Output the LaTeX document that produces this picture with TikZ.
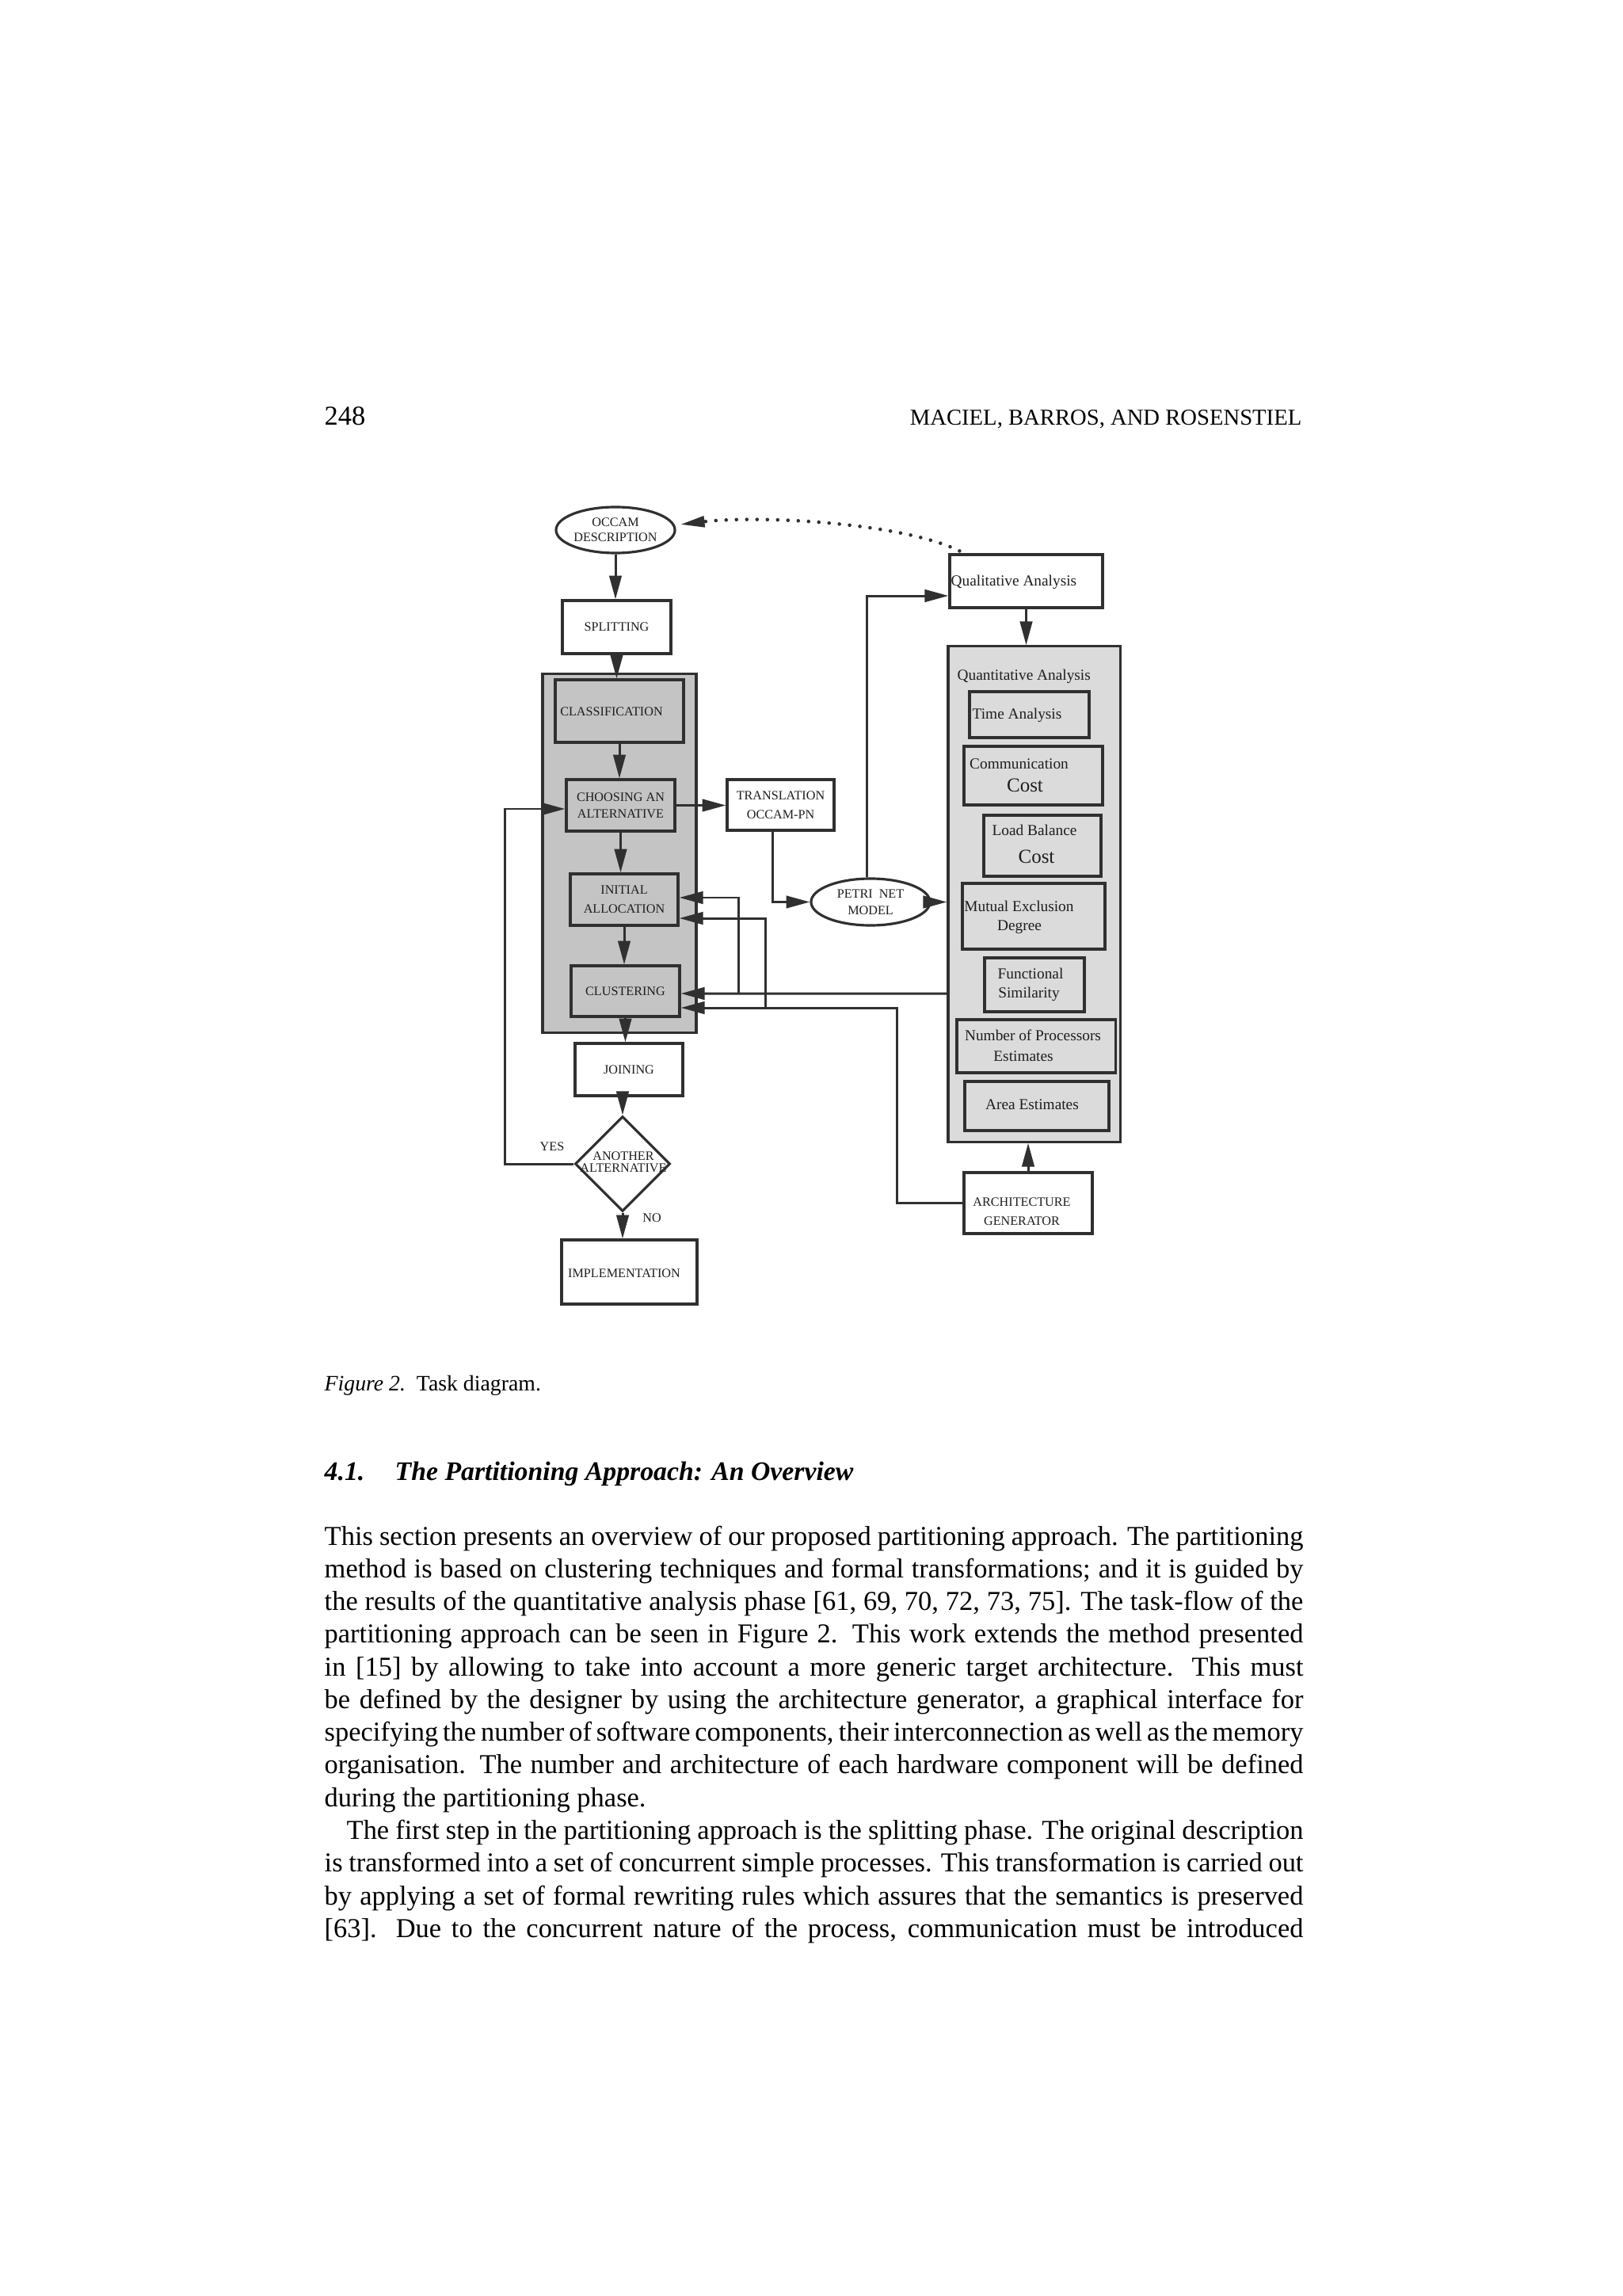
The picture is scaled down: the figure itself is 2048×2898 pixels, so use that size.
\documentclass[tikz,border=0pt]{standalone}
\usepackage{fontspec}
\setmainfont{Liberation Serif}
\usetikzlibrary{arrows.meta,shapes.geometric,calc}
\definecolor{ln}{HTML}{303030}
\definecolor{shL}{gray}{0.77}
\definecolor{shR}{gray}{0.86}
\definecolor{txt}{HTML}{1E1E1E}
\newcommand\capsz{\fontsize{4.6}{5.4}\selectfont}
\newcommand\mixsz{\fontsize{5.5}{6.5}\selectfont}
\newcommand\costsz{\fontsize{7.1}{8}\selectfont}
\newcommand\bodysz{\fontsize{9.8}{11.745}\selectfont}
\begin{document}
\begin{tikzpicture}[x=0.01cm,y=-0.01cm,
  box/.style={draw=ln, line width=0.9pt, rectangle, inner sep=0pt, text=txt},
  oval/.style={draw=ln, line width=0.9pt, ellipse, inner sep=0pt, text=txt, fill=white},
  lbl/.style={inner sep=0pt, text=txt},
  arr/.style={draw=ln, line width=0.85pt, -{Triangle[length=8.5pt,width=4.4pt]}},
  dotline/.style={draw=ln, line width=1.3pt, line cap=round, dash pattern=on 0pt off 3.7pt, -{Triangle[length=8.8pt,width=3.8pt]}},
  bodyline/.style={anchor=base west, inner sep=0pt, text width=12.35cm, align=justify, font=\bodysz},
  plainline/.style={anchor=base west, inner sep=0pt, font=\bodysz}]
\fill[white] (0,0) rectangle (2048,2898);
\useasboundingbox (0,0) rectangle (2048,2898);

% ---------- page header ----------
\node[anchor=base west, inner sep=0pt, font=\fontsize{9.8}{11}\selectfont] (folio) at (409,537) {248};
\node[anchor=base east, inner sep=0pt, font=\fontsize{8.15}{10}\selectfont] (rhead) at (1644,537) {MACIEL, BARROS, AND ROSENSTIEL};

% ---------- diagram: left column ----------
\node[oval, minimum width=1.50cm, minimum height=0.58cm, align=center, font=\capsz] (occam) at (777,669) {OCCAM\\DESCRIPTION};
\node[box, minimum width=1.37cm, minimum height=0.67cm, font=\capsz] (split) at (778.5,791.5) {SPLITTING};
\node[box, fill=shL, minimum width=1.94cm, minimum height=4.52cm] (cont) at (782,1077) {};
\node[box, fill=shL, minimum width=1.62cm, minimum height=0.79cm] (class) at (782,897.5) {};
\node[lbl, font=\capsz] (classT) at (772,898) {CLASSIFICATION};
\node[box, fill=shL, minimum width=1.37cm, minimum height=0.65cm, align=center, font=\capsz] (choose) at (783.5,1016.5) {CHOOSING AN\\[0.6pt]ALTERNATIVE};
\node[box, fill=shL, minimum width=1.36cm, minimum height=0.65cm, align=center, font=\capsz] (init) at (788,1135.5) {INITIAL\\[1.4pt]ALLOCATION};
\node[box, fill=shL, minimum width=1.37cm, minimum height=0.64cm, font=\capsz] (clust) at (789.5,1251) {CLUSTERING};
\node[box, minimum width=1.36cm, minimum height=0.66cm, font=\capsz] (join) at (794,1350) {JOINING};
\node[draw=ln, line width=0.9pt, diamond, aspect=1, inner sep=0pt, minimum width=1.20cm, minimum height=1.20cm] (dia) at (786,1469) {};
\node[lbl, align=center, font=\fontsize{4.6}{4.3}\selectfont] (diaT) at (787,1467) {ANOTHER\\ALTERNATIVE};
\node[lbl, font=\capsz] (yes) at (697,1447) {YES};
\node[lbl, font=\capsz] (no) at (823,1537) {NO};
\node[box, minimum width=1.71cm, minimum height=0.81cm] (impl) at (794.5,1605.5) {};
\node[lbl, font=\capsz] (implT) at (788,1607) {IMPLEMENTATION};

% ---------- middle ----------
\node[box, minimum width=1.35cm, minimum height=0.64cm, align=center, font=\capsz] (trans) at (985.5,1016) {TRANSLATION\\[1.5pt]OCCAM-PN};
\node[oval, minimum width=1.50cm, minimum height=0.59cm, align=center, font=\capsz] (petri) at (1099,1138.5) {PETRI\enspace NET\\[0.6pt]MODEL};

% ---------- right column ----------
\node[box, minimum width=1.93cm, minimum height=0.67cm] (qual) at (1295.5,733.5) {};
\node[lbl, anchor=west, font=\mixsz] (qualT) at (1200,735) {Qualitative Analysis};
\node[box, fill=shR, minimum width=2.17cm, minimum height=6.25cm] (quant) at (1305.5,1128.5) {};
\node[lbl, anchor=west, font=\mixsz] (quantT) at (1208,854) {Quantitative Analysis};
\node[box, fill=shR, minimum width=1.51cm, minimum height=0.58cm] (time) at (1299.5,902) {};
\node[lbl, anchor=west, font=\mixsz] (timeT) at (1227,903) {Time Analysis};
\node[box, fill=shR, minimum width=1.75cm, minimum height=0.74cm] (comm) at (1304.5,979) {};
\node[lbl, font=\mixsz] (commA) at (1286.5,964) {Communication};
\node[lbl, font=\costsz] (commB) at (1294,991) {Cost};
\node[box, fill=shR, minimum width=1.48cm, minimum height=0.77cm] (load) at (1316,1067.5) {};
\node[lbl, font=\mixsz] (loadA) at (1306,1048) {Load Balance};
\node[lbl, font=\costsz] (loadB) at (1308.5,1081) {Cost};
\node[box, fill=shR, minimum width=1.80cm, minimum height=0.83cm] (mutual) at (1305,1156.5) {};
\node[lbl, font=\mixsz] (mutualA) at (1286.5,1144) {Mutual Exclusion};
\node[lbl, font=\mixsz] (mutualB) at (1287,1170) {Degree};
\node[box, fill=shR, minimum width=1.26cm, minimum height=0.68cm] (func) at (1306,1243) {};
\node[lbl, font=\mixsz] (funcA) at (1301,1229) {Functional};
\node[lbl, font=\mixsz] (funcB) at (1299,1255) {Similarity};
\node[box, fill=shR, minimum width=2.00cm, minimum height=0.67cm] (nproc) at (1308,1320.5) {};
\node[lbl, font=\mixsz] (nprocA) at (1304,1307) {Number of Processors};
\node[lbl, font=\mixsz] (nprocB) at (1292,1333) {Estimates};
\node[box, fill=shR, minimum width=1.82cm, minimum height=0.62cm] (area) at (1309,1396) {};
\node[lbl, font=\mixsz] (areaT) at (1303,1394) {Area Estimates};
\node[box, minimum width=1.62cm, minimum height=0.77cm] (arch) at (1298,1518.5) {};
\node[lbl, align=center, font=\capsz] (archT) at (1290,1529) {ARCHITECTURE\\[1.5pt]GENERATOR};

% ---------- connectors ----------
\coordinate (lp) at (637,1021);
\coordinate (b1) at (932,1254);
\coordinate (k2) at (1132,1272);
\coordinate (b2) at (966,1272);

\draw[arr] (occam.south) -- (occam.south |- split.north);
\draw[arr] (split.south) -- (split.south |- class.north);
\draw[arr] (class.south) -- (class.south |- choose.north);
\draw[arr] (choose.south) -- (choose.south |- init.north);
\draw[arr] (init.south) -- (init.south |- clust.north);
\draw[arr] (clust.south) -- (clust.south |- join.north);
\draw[arr] (dia.north |- join.south) -- (dia.north);
\draw[arr] (dia.south) -- (dia.south |- impl.north);
\draw[arr] (dia.west) -| (lp) -- (lp -| choose.west);
\draw[arr] (choose.east) -- (choose.east -| trans.west);
\draw[arr] ([xshift=-0.105cm]trans.south) |- (petri.west);
\draw[arr] ([xshift=-0.05cm]petri.north) |- ([yshift=-0.185cm]qual.west);
\draw[arr] (petri.east) -- (petri.east -| quant.west);
\draw[arr] (qual.south) -- (qual.south |- quant.north);
\draw[arr] (arch.north) -- (arch.north |- quant.south);
\draw[arr] ([yshift=-1.255cm]quant.west) -- ([yshift=-0.03cm]clust.east);
\draw[arr] (b1) |- ([yshift=0.025cm]init.east);
\draw[arr] (arch.west) -| (k2) -- (k2 -| clust.east);
\draw[arr] (b2) |- ([yshift=-0.235cm]init.east);
\draw[dotline] ($(qual.north west)+(14,-3)$) .. controls (1140,660) and (960,650) .. ($(occam.east)+(5,-7)$);

% ---------- caption and section ----------
\node[anchor=base west, inner sep=0pt, font=\fontsize{7.9}{9}\selectfont] (cap) at (409,1755) {\textit{Figure 2.}\enspace Task diagram.};
\node[anchor=base west, inner sep=0pt, font=\fontsize{9.6}{12}\selectfont\bfseries\itshape] (sec) at (409,1868) {\makebox[0.89cm][l]{4.1.}The Partitioning Approach: An Overview};

% ---------- body text ----------
\node[bodyline] (l1) at (409,1950) {\noindent\parfillskip=0pt This section presents an overview of our proposed partitioning approach. The partitioning\par};
\node[bodyline] (l2) at (409,1991.28) {\noindent\parfillskip=0pt method is based on clustering techniques and formal transformations; and it is guided by\par};
\node[bodyline] (l3) at (409,2032.56) {\noindent\parfillskip=0pt the results of the quantitative analysis phase [61, 69, 70, 72, 73, 75]. The task-flow of the\par};
\node[bodyline] (l4) at (409,2073.84) {\noindent\parfillskip=0pt partitioning approach can be seen in Figure 2. This work extends the method presented\par};
\node[bodyline] (l5) at (409,2115.12) {\noindent\parfillskip=0pt in [15] by allowing to take into account a more generic target architecture. This must\par};
\node[bodyline] (l6) at (409,2156.4) {\noindent\parfillskip=0pt be defined by the designer by using the architecture generator, a graphical interface for\par};
\node[bodyline] (l7) at (409,2197.68) {\noindent\parfillskip=0pt specifying the number of software components, their interconnection as well as the memory\par};
\node[bodyline] (l8) at (409,2238.96) {\noindent\parfillskip=0pt organisation. The number and architecture of each hardware component will be defined\par};
\node[plainline] (l9) at (409,2280.24) {during the partitioning phase.};
\node[bodyline, text width=12.07cm] (l10) at (437,2321.52) {\noindent\parfillskip=0pt The first step in the partitioning approach is the splitting phase. The original description\par};
\node[bodyline] (l11) at (409,2362.8) {\noindent\parfillskip=0pt is transformed into a set of concurrent simple processes. This transformation is carried out\par};
\node[bodyline] (l12) at (409,2404.08) {\noindent\parfillskip=0pt by applying a set of formal rewriting rules which assures that the semantics is preserved\par};
\node[bodyline] (l13) at (409,2445.36) {\noindent\parfillskip=0pt [63]. Due to the concurrent nature of the process, communication must be introduced\par};
\end{tikzpicture}
\end{document}
